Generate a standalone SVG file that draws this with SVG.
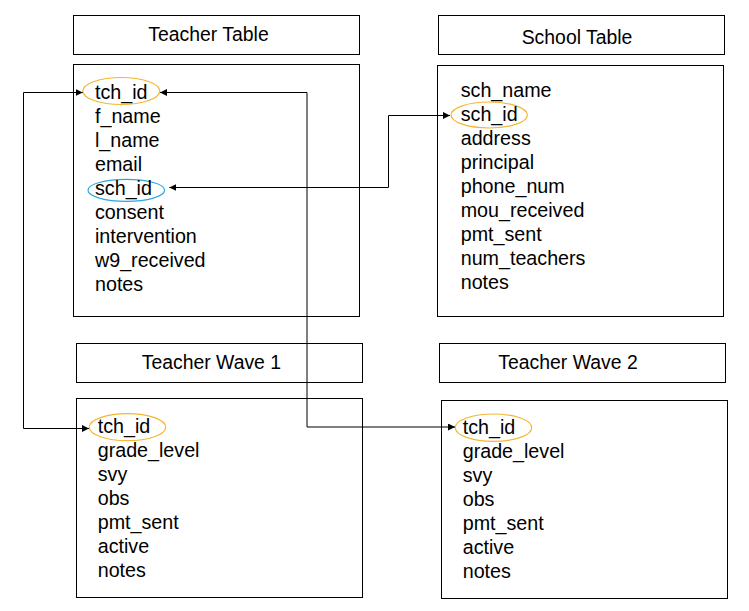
<svg xmlns="http://www.w3.org/2000/svg" width="749" height="611" viewBox="0 0 749 611">
  <style>
    .box { fill: #ffffff; stroke: #000000; stroke-width: 1; }
    .head { font-family: "Liberation Sans", Arial, sans-serif; font-size: 19.4px; fill: #000000; }
    .field { font-family: "Liberation Sans", Arial, sans-serif; font-size: 19.7px; fill: #000000; }
    .key { fill: none; stroke: #F5B731; stroke-width: 1.2; }
    .fkey { fill: none; stroke: #29A8E0; stroke-width: 1.2; }
    .link { fill: none; stroke: #000000; stroke-width: 1; marker-start: url(#arr); marker-end: url(#arr); }
  </style>
  <defs>
    <marker id="arr" viewBox="0 0 10 10" refX="10" refY="5" markerWidth="7" markerHeight="7" markerUnits="userSpaceOnUse" orient="auto-start-reverse">
      <path d="M0,0 L10,5 L0,10 z" fill="#000000"/>
    </marker>
  </defs>
  <rect width="749" height="611" fill="#ffffff"/>

  <!-- Teacher Table -->
  <g id="teacher-table">
    <rect class="box" x="73.5" y="15.5" width="286" height="39"/>
    <text class="head" x="148.3" y="41">Teacher Table</text>
    <rect class="box" x="73.5" y="64.5" width="286" height="252"/>
    <ellipse class="key" cx="121.3" cy="91" rx="38.5" ry="13.5"/>
    <ellipse class="fkey" cx="126.3" cy="190.3" rx="38.3" ry="11"/>
    <text class="field" x="95" y="99">tch_id</text>
    <text class="field" x="95" y="123">f_name</text>
    <text class="field" x="95" y="147">l_name</text>
    <text class="field" x="95" y="171">email</text>
    <text class="field" x="95" y="195">sch_id</text>
    <text class="field" x="95" y="219">consent</text>
    <text class="field" x="95" y="243">intervention</text>
    <text class="field" x="95" y="267">w9_received</text>
    <text class="field" x="95" y="291">notes</text>
  </g>

  <!-- School Table -->
  <g id="school-table">
    <rect class="box" x="438.5" y="15.5" width="286" height="39"/>
    <text class="head" x="521.7" y="44">School Table</text>
    <rect class="box" x="437.5" y="65.5" width="286" height="251"/>
    <ellipse class="key" cx="489.2" cy="115" rx="38.2" ry="13"/>
    <text class="field" x="460.7" y="96.5">sch_name</text>
    <text class="field" x="460.7" y="120.5">sch_id</text>
    <text class="field" x="460.7" y="144.5">address</text>
    <text class="field" x="460.7" y="168.5">principal</text>
    <text class="field" x="460.7" y="192.5">phone_num</text>
    <text class="field" x="460.7" y="216.5">mou_received</text>
    <text class="field" x="460.7" y="240.5">pmt_sent</text>
    <text class="field" x="460.7" y="264.5">num_teachers</text>
    <text class="field" x="460.7" y="288.5">notes</text>
  </g>

  <!-- Teacher Wave 1 -->
  <g id="teacher-wave-1">
    <rect class="box" x="76.5" y="343.5" width="286" height="39"/>
    <text class="head" x="141.7" y="369">Teacher Wave 1</text>
    <rect class="box" x="76.5" y="398.5" width="286" height="199"/>
    <ellipse class="key" cx="127.5" cy="427.2" rx="38.2" ry="13.5"/>
    <text class="field" x="97.7" y="432.5">tch_id</text>
    <text class="field" x="97.7" y="456.5">grade_level</text>
    <text class="field" x="97.7" y="480.5">svy</text>
    <text class="field" x="97.7" y="504.5">obs</text>
    <text class="field" x="97.7" y="528.5">pmt_sent</text>
    <text class="field" x="97.7" y="552.5">active</text>
    <text class="field" x="97.7" y="576.5">notes</text>
  </g>

  <!-- Teacher Wave 2 -->
  <g id="teacher-wave-2">
    <rect class="box" x="439.5" y="343.5" width="286" height="39"/>
    <text class="head" x="498.3" y="369">Teacher Wave 2</text>
    <rect class="box" x="441.5" y="400.5" width="286" height="198"/>
    <ellipse class="key" cx="493.5" cy="427.7" rx="38.2" ry="13.7"/>
    <text class="field" x="462.7" y="434">tch_id</text>
    <text class="field" x="462.7" y="458">grade_level</text>
    <text class="field" x="462.7" y="482">svy</text>
    <text class="field" x="462.7" y="506">obs</text>
    <text class="field" x="462.7" y="530">pmt_sent</text>
    <text class="field" x="462.7" y="554">active</text>
    <text class="field" x="462.7" y="578">notes</text>
  </g>

  <!-- Key links -->
  <g id="connectors">
    <path class="link" d="M89,428.5 L23.5,428.5 L23.5,92.5 L82.7,92.5"/>
    <path class="link" d="M160,92.5 L307,92.5 L307,427 L455,427"/>
    <path class="link" d="M169.3,187.5 L388.5,187.5 L388.5,115.5 L450,115.5"/>
  </g>
</svg>
